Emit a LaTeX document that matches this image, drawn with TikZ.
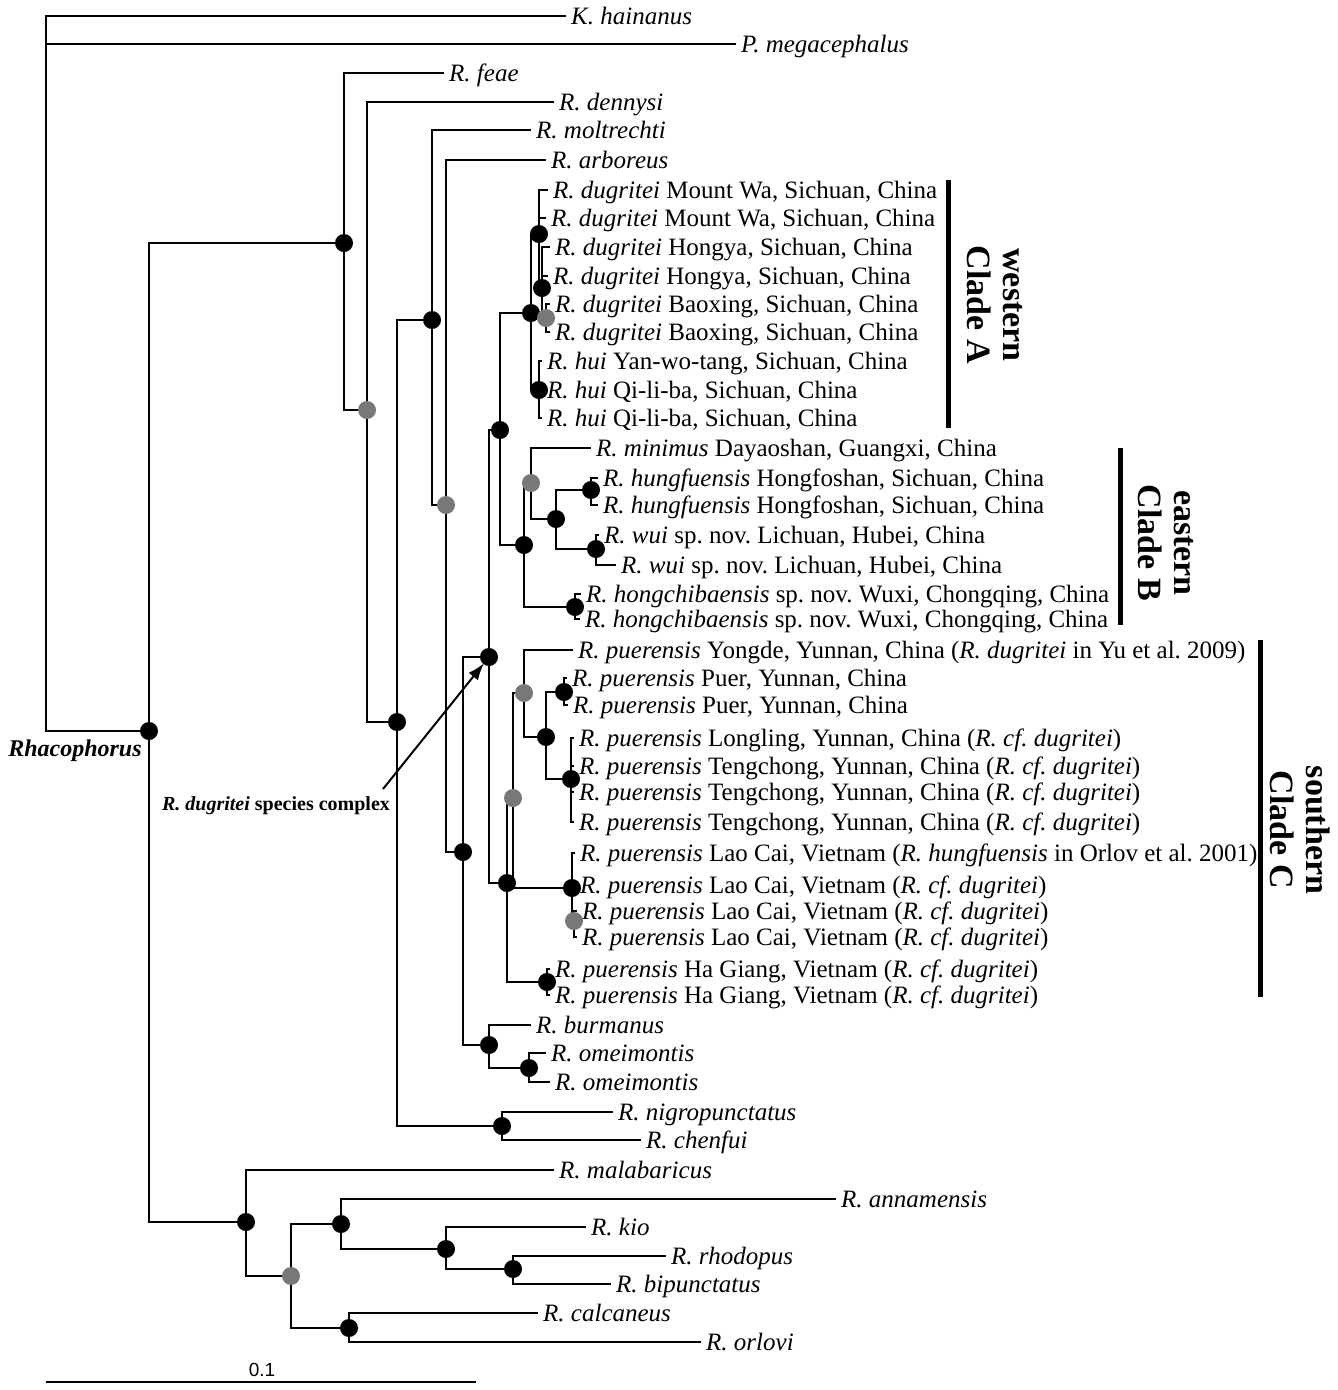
\documentclass[tikz,border=0pt]{standalone}
\usepackage{fontspec}
\setmainfont{Liberation Serif}
\newfontfamily\arialfont{Liberation Sans}
\usetikzlibrary{arrows.meta}
\definecolor{dotgray}{RGB}{120,120,120}
\frenchspacing
\newcommand\mytip[4]{\coordinate (#1) at (#2,#3); \node[lab] (#1l) at (#1) {#4};}
\newcommand\mykids[2]{\foreach \c in {#2} {\draw[br] (#1) |- (\c);}}
\begin{document}
\begin{tikzpicture}[x=1pt,y=-1pt,
 br/.style={line width=2pt,line cap=rect},
 lab/.style={anchor=base west,inner sep=0pt,xshift=6pt,yshift=-8pt,font=\fontsize{25}{29}\selectfont},
 bar/.style={line width=5pt},
 cladelab/.style={rotate=-90,align=center,inner sep=0pt,font=\fontsize{34}{36}\selectfont\bfseries}
]
\useasboundingbox (0,0) rectangle (1338,1390);
% tips
\mytip{tK}{565}{16}{\textit{K. hainanus}}
\mytip{tP}{735}{44}{\textit{P. megacephalus}}
\mytip{tFeae}{443}{73}{\textit{R. feae}}
\mytip{tDen}{553}{102}{\textit{R. dennysi}}
\mytip{tMol}{530}{130}{\textit{R. moltrechti}}
\mytip{tArb}{545}{160}{\textit{R. arboreus}}
\mytip{tMWa}{547}{190}{\textit{R. dugritei} Mount Wa, Sichuan, China}
\mytip{tMWb}{545}{218}{\textit{R. dugritei} Mount Wa, Sichuan, China}
\mytip{tHYa}{549}{247}{\textit{R. dugritei} Hongya, Sichuan, China}
\mytip{tHYb}{547}{276}{\textit{R. dugritei} Hongya, Sichuan, China}
\mytip{tBXa}{549}{304}{\textit{R. dugritei} Baoxing, Sichuan, China}
\mytip{tBXb}{549}{332}{\textit{R. dugritei} Baoxing, Sichuan, China}
\mytip{tHuia}{541}{361}{\textit{R. hui} Yan-wo-tang, Sichuan, China}
\mytip{tHuib}{541}{390}{\textit{R. hui} Qi-li-ba, Sichuan, China}
\mytip{tHuic}{541}{418}{\textit{R. hui} Qi-li-ba, Sichuan, China}
\mytip{tMin}{590}{448}{\textit{R. minimus} Dayaoshan, Guangxi, China}
\mytip{tHFa}{597}{478}{\textit{R. hungfuensis} Hongfoshan, Sichuan, China}
\mytip{tHFb}{597}{505}{\textit{R. hungfuensis} Hongfoshan, Sichuan, China}
\mytip{tWuia}{598}{535}{\textit{R. wui} sp. nov. Lichuan, Hubei, China}
\mytip{tWuib}{615}{565}{\textit{R. wui} sp. nov. Lichuan, Hubei, China}
\mytip{tHCa}{580}{594}{\textit{R. hongchibaensis} sp. nov. Wuxi, Chongqing, China}
\mytip{tHCb}{579}{619}{\textit{R. hongchibaensis} sp. nov. Wuxi, Chongqing, China}
\mytip{tYD}{572}{650}{\textit{R. puerensis} Yongde, Yunnan, China (\textit{R. dugritei} in Yu et al. 2009)}
\mytip{tPEa}{566}{678}{\textit{R. puerensis} Puer, Yunnan, China}
\mytip{tPEb}{567}{705}{\textit{R. puerensis} Puer, Yunnan, China}
\mytip{tLL}{573}{738}{\textit{R. puerensis} Longling, Yunnan, China (\textit{R. cf. dugritei})}
\mytip{tTCa}{573}{766}{\textit{R. puerensis} Tengchong, Yunnan, China (\textit{R. cf. dugritei})}
\mytip{tTCb}{573}{792}{\textit{R. puerensis} Tengchong, Yunnan, China (\textit{R. cf. dugritei})}
\mytip{tTCc}{573}{822}{\textit{R. puerensis} Tengchong, Yunnan, China (\textit{R. cf. dugritei})}
\mytip{tLCa}{574}{853}{\textit{R. puerensis} Lao Cai, Vietnam (\textit{R. hungfuensis} in Orlov et al. 2001)}
\mytip{tLCb}{574}{885}{\textit{R. puerensis} Lao Cai, Vietnam (\textit{R. cf. dugritei})}
\mytip{tLCc}{576}{911}{\textit{R. puerensis} Lao Cai, Vietnam (\textit{R. cf. dugritei})}
\mytip{tLCd}{576}{937}{\textit{R. puerensis} Lao Cai, Vietnam (\textit{R. cf. dugritei})}
\mytip{tHGa}{549}{969}{\textit{R. puerensis} Ha Giang, Vietnam (\textit{R. cf. dugritei})}
\mytip{tHGb}{549}{995}{\textit{R. puerensis} Ha Giang, Vietnam (\textit{R. cf. dugritei})}
\mytip{tBur}{530}{1025}{\textit{R. burmanus}}
\mytip{tOma}{545}{1053}{\textit{R. omeimontis}}
\mytip{tOmb}{549}{1082}{\textit{R. omeimontis}}
\mytip{tNig}{612}{1112}{\textit{R. nigropunctatus}}
\mytip{tChe}{640}{1140}{\textit{R. chenfui}}
\mytip{tMal}{553}{1170}{\textit{R. malabaricus}}
\mytip{tAnn}{835}{1199}{\textit{R. annamensis}}
\mytip{tKio}{585}{1227}{\textit{R. kio}}
\mytip{tRho}{665}{1256}{\textit{R. rhodopus}}
\mytip{tBip}{610}{1284}{\textit{R. bipunctatus}}
\mytip{tCal}{537}{1313}{\textit{R. calcaneus}}
\mytip{tOrl}{700}{1342}{\textit{R. orlovi}}
% internal nodes
\coordinate (nRoot) at (46,731);
\coordinate (nRh) at (149,731);
\coordinate (nA) at (344,243);
\coordinate (nB) at (367,410);
\coordinate (nC) at (397,722);
\coordinate (nD) at (432,320);
\coordinate (nE) at (446,505);
\coordinate (nF) at (463,852);
\coordinate (nG) at (489,657);
\coordinate (nH) at (500,430);
\coordinate (nCA) at (531,313);
\coordinate (nAa) at (539,234);
\coordinate (nAb) at (542,288);
\coordinate (nAc) at (546,318);
\coordinate (nHui) at (539,390);
\coordinate (nCB) at (524,545);
\coordinate (nBa) at (531,483);
\coordinate (nBb) at (556,519);
\coordinate (nHF) at (591,490);
\coordinate (nWui) at (596,549);
\coordinate (nHC) at (575,607);
\coordinate (nCC) at (507,883);
\coordinate (nGa) at (513,798);
\coordinate (nGb) at (524,693);
\coordinate (nPa) at (546,737);
\coordinate (nPE) at (564,692);
\coordinate (nTC) at (571,779);
\coordinate (nLC) at (572,888);
\coordinate (nLCc) at (574,921);
\coordinate (nHG) at (547,982);
\coordinate (nBO) at (489,1045);
\coordinate (nOm) at (529,1068);
\coordinate (nNC) at (502,1126);
\coordinate (nL) at (246,1222);
\coordinate (nM) at (291,1276);
\coordinate (nN) at (341,1224);
\coordinate (nP) at (446,1249);
\coordinate (nQ) at (513,1269);
\coordinate (nO) at (349,1328);
% edges
\mykids{nRoot}{tK,tP,nRh}
\mykids{nRh}{nA,nL}
\mykids{nA}{tFeae,nB}
\mykids{nB}{tDen,nC}
\mykids{nC}{nD,nNC}
\mykids{nD}{tMol,nE}
\mykids{nE}{tArb,nF}
\mykids{nF}{nG,nBO}
\mykids{nG}{nH,nCC}
\mykids{nH}{nCA,nCB}
\mykids{nCA}{nAa,nHui}
\mykids{nAa}{tMWa,tMWb,nAb}
\mykids{nAb}{tHYa,tHYb,nAc}
\mykids{nAc}{tBXa,tBXb}
\mykids{nHui}{tHuia,tHuib,tHuic}
\mykids{nCB}{nBa,nHC}
\mykids{nBa}{tMin,nBb}
\mykids{nBb}{nHF,nWui}
\mykids{nHF}{tHFa,tHFb}
\mykids{nWui}{tWuia,tWuib}
\mykids{nHC}{tHCa,tHCb}
\mykids{nCC}{nGa,nHG}
\mykids{nGa}{nGb,nLC}
\mykids{nGb}{tYD,nPa}
\mykids{nPa}{nPE,nTC}
\mykids{nPE}{tPEa,tPEb}
\mykids{nTC}{tLL,tTCa,tTCb,tTCc}
\mykids{nLC}{tLCa,tLCb,nLCc}
\mykids{nLCc}{tLCc,tLCd}
\mykids{nHG}{tHGa,tHGb}
\mykids{nBO}{tBur,nOm}
\mykids{nOm}{tOma,tOmb}
\mykids{nNC}{tNig,tChe}
\mykids{nL}{tMal,nM}
\mykids{nM}{nN,nO}
\mykids{nN}{tAnn,nP}
\mykids{nP}{tKio,nQ}
\mykids{nQ}{tRho,tBip}
\mykids{nO}{tCal,tOrl}
% support dots
\foreach \n in {nRh,nA,nC,nD,nF,nG,nH,nCA,nAa,nAb,nHui,nCB,nBb,nHF,nWui,nHC,nCC,nPa,nPE,nTC,nLC,nHG,nBO,nOm,nNC,nL,nN,nP,nQ,nO}
  \fill[black] (\n) circle (9);
\foreach \n in {nB,nE,nAc,nBa,nGa,nGb,nLCc,nM}
  \fill[dotgray] (\n) circle (9);
% genus label
\node[font=\fontsize{24}{28}\selectfont\bfseries\itshape] (rhlab) at (75,751) {Rhacophorus};
% arrow
\node[font=\fontsize{20}{24}\selectfont\bfseries] (cplx) at (276,806) {\textit{R. dugritei} species complex};
\coordinate (arrS) at (383,789);
\draw[line width=2pt,-{Latex[length=17pt,width=12pt]},shorten >=8pt] (arrS) -- (nG);
% clade bars
\coordinate (bAa) at (948,180); \coordinate (bAb) at (948,428);
\coordinate (bBa) at (1120,448); \coordinate (bBb) at (1120,625);
\coordinate (bCa) at (1260,640); \coordinate (bCb) at (1260,997);
\draw[bar] (bAa) -- (bAb);
\draw[bar] (bBa) -- (bBb);
\draw[bar] (bCa) -- (bCb);
\node[cladelab] (cA) at (995,305) {western\\Clade A};
\node[cladelab] (cB) at (1166,543) {eastern\\Clade B};
\node[cladelab] (cC) at (1300,830) {southern\\Clade C};
% scale bar
\coordinate (sba) at (46,1382); \coordinate (sbb) at (476,1382);
\draw[line width=2pt] (sba) -- (sbb);
\node[font=\fontsize{19}{22}\selectfont\arialfont] (sbl) at (262,1370) {0.1};
\end{tikzpicture}
\end{document}
